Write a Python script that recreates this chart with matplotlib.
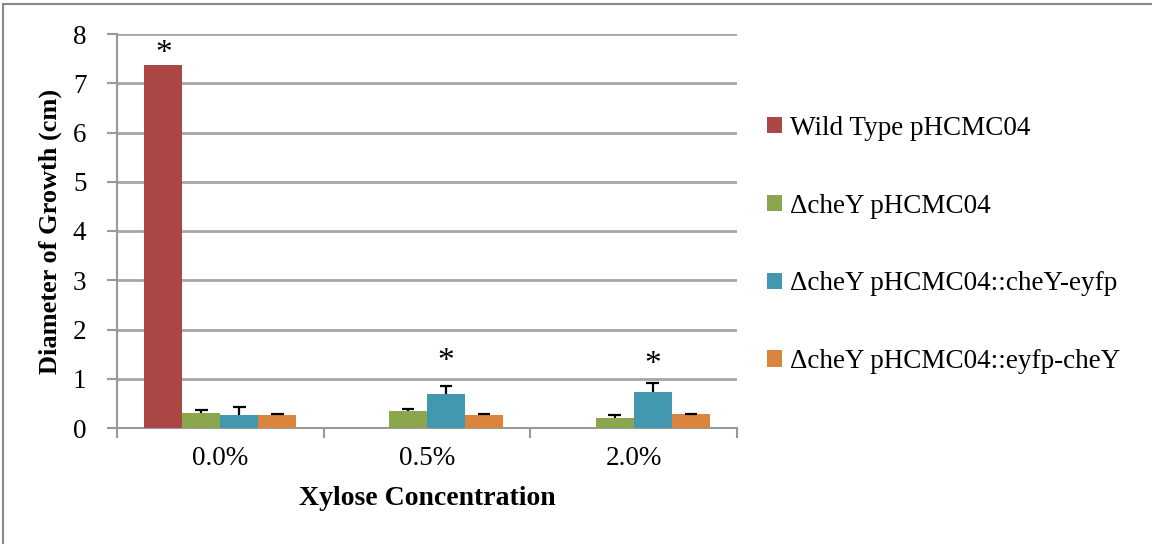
import numpy as np
import matplotlib
matplotlib.use("Agg")
import matplotlib.pyplot as plt
from matplotlib.patches import Rectangle

# growth diameter (cm) per strain at each xylose level; error bars are upper only
concentrations = ["0.0%", "0.5%", "2.0%"]
strains = ["Wild Type pHCMC04", "\u0394cheY pHCMC04",
           "\u0394cheY pHCMC04::cheY-eyfp", "\u0394cheY pHCMC04::eyfp-cheY"]
wild_type = [7.37, np.nan, np.nan]
chey_null = [0.31, 0.34, 0.21]
chey_eyfp = [0.27, 0.70, 0.74]
eyfp_chey = [0.27, 0.27, 0.28]
wild_type_err = [0.0, 0.0, 0.0]
chey_null_err = [0.05, 0.04, 0.05]
chey_eyfp_err = [0.16, 0.16, 0.17]
eyfp_chey_err = [0.015, 0.015, 0.01]
# significance markers: (strain index, concentration index, height of the star)
stars = [(0, 0, 7.59), (2, 1, 1.35), (2, 2, 1.29)]

colors = ["#AB4744", "#8BA64D", "#4198AF", "#DB843D"]
plt.rcParams["font.family"] = ["Liberation Serif", "DejaVu Serif"]

fig = plt.figure(figsize=(11.52, 5.44), dpi=100)
ax = fig.add_axes([117/1152, 116/544, 620/1152, 394/544])

series = [wild_type, chey_null, chey_eyfp, eyfp_chey]
errs = [wild_type_err, chey_null_err, chey_eyfp_err, eyfp_chey_err]
x = np.arange(len(concentrations))
w = 0.184
cap = 0.03
for i, (vals, err, c, lab) in enumerate(zip(series, errs, colors, strains)):
    pos = x + (i - 1.5) * w
    vals = np.array(vals)
    err = np.array(err)
    ax.bar(pos, vals, w, color=c, label=lab, zorder=3)
    m = err > 0
    ax.vlines(pos[m], vals[m], vals[m] + err[m], color="black", lw=1.6, zorder=4)
    ax.hlines(vals[m] + err[m], pos[m] - cap, pos[m] + cap, color="black", lw=1.6, zorder=4)

for si, ci, h in stars:
    ax.text(x[ci] + (si - 1.5) * w, h, "*", ha="center", va="center", fontsize=24)

ax.set_xlim(-0.5, 2.5)
ax.set_ylim(0, 8)
ax.set_yticks(range(0, 9))
ax.set_xticks(x)
ax.set_xticklabels(concentrations)
ax.set_xticks([-0.5, 0.5, 1.5, 2.5], minor=True)
ax.tick_params(axis="x", which="major", length=0, pad=13, labelsize=19.5)
ax.tick_params(axis="x", which="minor", length=7, width=1.5, color="#999999")
ax.tick_params(axis="y", length=7, width=1.5, color="#999999", labelsize=19.5, pad=15)
ax.yaxis.grid(True, color="#a6a6a6", linewidth=2, zorder=0)
ax.set_axisbelow(True)
for s in ["top", "right"]:
    ax.spines[s].set_visible(False)
for s in ["left", "bottom"]:
    ax.spines[s].set_color("#999999")
    ax.spines[s].set_linewidth(1.5)

ax.set_ylabel("Diameter of Growth (cm)", fontsize=19, fontweight="bold", labelpad=8)
ax.set_xlabel("Xylose Concentration", fontsize=20, fontweight="bold", labelpad=11)

leg = fig.legend(loc="center left", bbox_to_anchor=(743/1152, 1 - 245/544), frameon=False,
                 fontsize=19.5, labelspacing=1.95, handlelength=0.55, handleheight=0.55,
                 handletextpad=0.3)

# outer chart-area border
fig.patches.append(Rectangle((3/1152, -0.1), 1.2, 0.1 + 1 - 4/544, transform=fig.transFigure,
                             fill=False, edgecolor="#888888", linewidth=1.5))

fig.savefig("out.png", dpi=100, facecolor="white")
